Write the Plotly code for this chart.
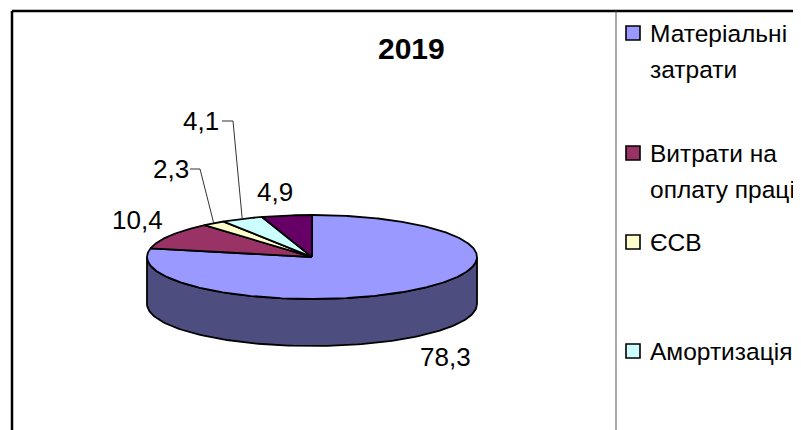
import numpy as np
import plotly.graph_objects as go

# ---------------- data ----------------
categories = ["Матеріальні затрати", "Витрати на оплату праці", "ЄСВ", "Амортизація", "Інші витрати"]
values = [78.3, 10.4, 2.3, 4.1, 4.9]
title_text = "2019"

# ---------------- style ----------------
W, H = 801, 430
OFF = 8  # page body margin
COLORS = ["#9999FF", "#993366", "#FFFFCC", "#CCFFFF", "#660066"]
SIDE_COLORS = ["#4D4D80", "#4D1A33", "#80806A", "#6A8080", "#330033"]
CX, CY, RX, RY, DEPTH = 312, 257, 165, 42, 47
FONT = "Liberation Sans, Arial, sans-serif"

def pt(theta_deg, dy=0):
    t = np.radians(theta_deg)
    return CX + RX * np.cos(t), CY - RY * np.sin(t) + dy

fig = go.Figure()

total = sum(values)
angles = []
a0 = 90.0
for v in values:
    a1 = a0 - 360.0 * v / total
    angles.append((a0, a1))
    a0 = a1

# side walls (front half only)
for i, (a0, a1) in enumerate(angles):
    for k in (-1, 0, 1):
        lo, hi = -180 + 360 * k, 0 + 360 * k
        s, e = max(a1, lo), min(a0, hi)
        if e - s <= 0.01:
            continue
        th = np.linspace(s, e, 120)
        xt, yt = pt(th)
        xb, yb = pt(th[::-1], DEPTH)
        xs = np.concatenate([xt, xb, xt[:1]])
        ys = np.concatenate([yt, yb, yt[:1]])
        fig.add_trace(go.Scatter(x=xs, y=ys, mode="lines", fill="toself",
                                 fillcolor=SIDE_COLORS[i],
                                 line=dict(color="black", width=1.8),
                                 hoverinfo="skip", showlegend=False))

# top faces
for i, (a0, a1) in enumerate(angles):
    n = max(int(abs(a0 - a1) * 2), 4)
    th = np.linspace(a0, a1, n)
    xa, ya = pt(th)
    xs = np.concatenate([[CX], xa, [CX]])
    ys = np.concatenate([[CY], ya, [CY]])
    fig.add_trace(go.Scatter(x=xs, y=ys, mode="lines", fill="toself",
                             fillcolor=COLORS[i],
                             line=dict(color="black", width=1.8),
                             hoverinfo="skip", showlegend=False,
                             name=categories[i]))

# data labels
def fmt(v):
    return f"{v:.1f}".replace(".", ",")

LABEL_XY = [(445, 357), (137, 220), (171, 169), (201, 121), (275, 192)]
LEADER = [None, None, (200, 190), (233, 222), None]  # elbow x, text-end x
annotations = []
for i, v in enumerate(values):
    lx, ly = LABEL_XY[i]
    annotations.append(dict(x=lx, y=ly, xref="x", yref="y", text=fmt(v),
                            showarrow=False, xanchor="center", yanchor="middle",
                            font=dict(family=FONT, size=26, color="black")))
    if LEADER[i]:
        mid = (angles[i][0] + angles[i][1]) / 2
        rx_, ry_ = pt(mid)
        ex, tx = LEADER[i]
        fig.add_trace(go.Scatter(x=[rx_, ex, tx], y=[ry_, ly, ly], mode="lines",
                                 line=dict(color="#333333", width=1),
                                 hoverinfo="skip", showlegend=False))

# title
annotations.append(dict(x=411, y=48, xref="x", yref="y", text="<b>" + title_text + "</b>",
                        showarrow=False, xanchor="center", yanchor="middle",
                        font=dict(family=FONT, size=30, color="black")))

# legend (manual, first four entries visible in the crop)
LEG_LINES = [["Матеріальні", "затрати"], ["Витрати на", "оплату праці"], ["ЄСВ"], ["Амортизація"]]
LEG_Y = [33, 153, 242, 351]
LINE_GAP = 36
shapes = []
for i, lines in enumerate(LEG_LINES):
    y0 = LEG_Y[i]
    shapes.append(dict(type="rect", xref="x", yref="y", x0=626, x1=640, y0=y0 - 7, y1=y0 + 7,
                       fillcolor=COLORS[i], line=dict(color="black", width=1.6)))
    for j, t in enumerate(lines):
        annotations.append(dict(x=648, y=y0 + j * LINE_GAP, xref="x", yref="y", text=t,
                                showarrow=False, xanchor="left", yanchor="middle",
                                font=dict(family=FONT, size=24.5, color="black")))

# frame
shapes.append(dict(type="line", xref="x", yref="y", x0=12, x1=W + OFF, y0=11, y1=11,
                   line=dict(color="black", width=2.5)))
shapes.append(dict(type="line", xref="x", yref="y", x0=12, x1=12, y0=11, y1=H + OFF,
                   line=dict(color="black", width=2.5)))
shapes.append(dict(type="line", xref="x", yref="y", x0=616, x1=616, y0=11, y1=H + OFF,
                   line=dict(color="#555555", width=1)))

fig.update_layout(
    width=W, height=H, margin=dict(l=0, r=0, t=0, b=0),
    paper_bgcolor="white", plot_bgcolor="white",
    xaxis=dict(range=[OFF, W + OFF], visible=False, fixedrange=True),
    yaxis=dict(range=[H + OFF, OFF], visible=False, fixedrange=True),
    annotations=annotations, shapes=shapes, showlegend=False,
)

fig.write_html("out.html")
